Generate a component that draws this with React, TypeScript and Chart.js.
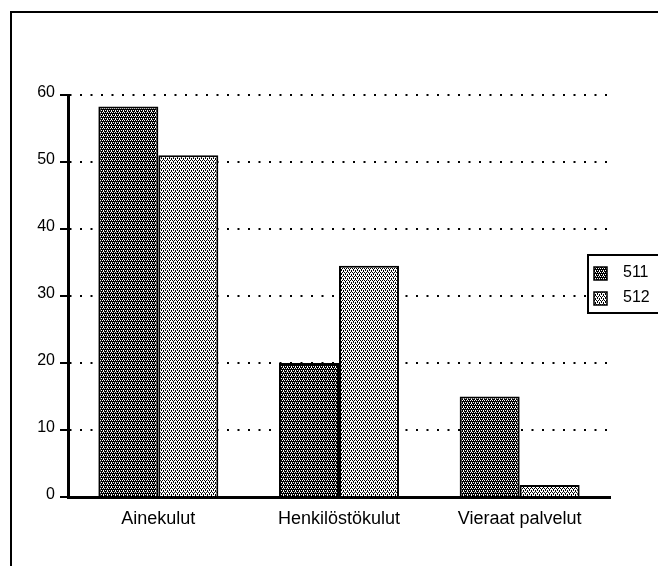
import React, { useEffect, useRef } from "react";
import { Chart, registerables } from "chart.js";

Chart.register(...registerables);

const categories = ["Ainekulut", "Henkilöstökulut", "Vieraat palvelut"];
const seriesLabels = ["511", "512"];
const values511 = [58.3, 20.0, 15.0];
const values512 = [51.0, 34.5, 1.8];
const yTicks = [0, 10, 20, 30, 40, 50, 60];

function makePattern(dark: boolean): CanvasPattern | string {
  const c = document.createElement("canvas");
  c.width = 4;
  c.height = 4;
  const g = c.getContext("2d");
  if (!g) return dark ? "#444" : "#aaa";
  g.fillStyle = dark ? "#000" : "#fff";
  g.fillRect(0, 0, 4, 4);
  g.fillStyle = dark ? "#fff" : "#000";
  const pts = dark
    ? [[0, 0], [2, 0], [1, 2], [3, 2], [3, 3]]
    : [[0, 0], [2, 0], [1, 2], [3, 2], [1, 1], [3, 3]];
  pts.forEach(([x, y]) => g.fillRect(x, y, 1, 1));
  const p = g.createPattern(c, "repeat");
  return p || (dark ? "#444" : "#aaa");
}

const framePlugin = {
  id: "frameAndLegend",
  afterDraw(chart: any) {
    const ctx = chart.ctx as CanvasRenderingContext2D;
    ctx.save();
    ctx.strokeStyle = "#000";
    ctx.lineWidth = 2;
    ctx.beginPath();
    ctx.moveTo(11, 566);
    ctx.lineTo(11, 12);
    ctx.lineTo(658, 12);
    ctx.stroke();

    const lx = 588;
    const ly = 255;
    ctx.lineWidth = 2;
    ctx.strokeRect(lx, ly, 80, 58);
    ctx.font = "16px 'Liberation Sans', Arial, sans-serif";
    ctx.textBaseline = "middle";
    ctx.textAlign = "left";
    chart.data.datasets.forEach((ds: any, i: number) => {
      const sy = ly + 12 + i * 25;
      ctx.fillStyle = ds.backgroundColor;
      ctx.fillRect(lx + 6, sy, 13, 13);
      ctx.lineWidth = 1.5;
      ctx.strokeRect(lx + 6, sy, 13, 13);
      ctx.fillStyle = "#000";
      ctx.fillText(ds.label, lx + 35, sy + 6);
    });
    ctx.restore();
  },
};

export default function App() {
  const ref = useRef<HTMLCanvasElement | null>(null);

  useEffect(() => {
    document.body.style.margin = "0";
    const canvas = ref.current;
    if (!canvas) return;
    const dark = makePattern(true);
    const light = makePattern(false);
    const chart = new Chart(canvas, {
      type: "bar",
      data: {
        labels: categories,
        datasets: [
          {
            label: seriesLabels[0],
            data: values511,
            backgroundColor: dark as any,
            borderColor: "#000",
            borderWidth: 2,
            categoryPercentage: 0.664,
            barPercentage: 1.0,
          },
          {
            label: seriesLabels[1],
            data: values512,
            backgroundColor: light as any,
            borderColor: "#000",
            borderWidth: 2,
            categoryPercentage: 0.664,
            barPercentage: 1.0,
          },
        ],
      },
      options: {
        responsive: false,
        animation: false,
        layout: { padding: { top: 95, right: 48, left: 0, bottom: 0 } },
        plugins: {
          legend: { display: false },
          tooltip: { enabled: false },
        },
        scales: {
          x: {
            grid: { display: false, drawTicks: false },
            border: { display: true, color: "#000", width: 3 },
            ticks: {
              color: "#000",
              padding: 11,
              font: { family: "'Liberation Sans', Arial, sans-serif", size: 18 },
            },
            afterFit: (s: any) => {
              s.height = 69;
            },
          },
          y: {
            min: 0,
            max: 60,
            afterBuildTicks: (s: any) => {
              s.ticks = yTicks.map((v) => ({ value: v }));
            },
            grid: {
              color: "#000",
              lineWidth: 2,
              drawTicks: true,
              tickLength: 8,
              tickWidth: 2,
              tickColor: "#000",
              tickBorderDash: [],
            },
            border: { display: true, color: "#000", width: 3, dash: [2, 8.5], dashOffset: -10 },
            ticks: {
              color: "#000",
              padding: 5,
              labelOffset: -2,
              font: { family: "'Liberation Sans', Arial, sans-serif", size: 16 },
            },
            afterFit: (s: any) => {
              s.width = 68;
            },
          },
        },
      },
      plugins: [framePlugin],
    });
    return () => chart.destroy();
  }, []);

  return (
    <div style={{ position: "absolute", left: 0, top: 0, width: 658, height: 566 }}>
      <canvas ref={ref} width={658} height={566} />
    </div>
  );
}
